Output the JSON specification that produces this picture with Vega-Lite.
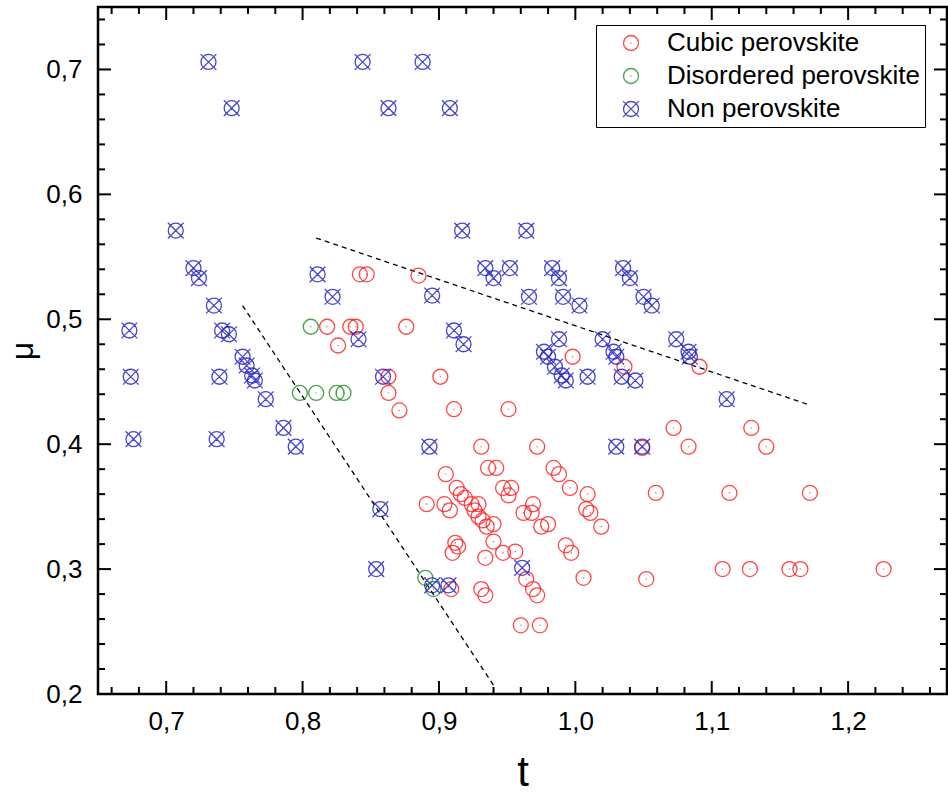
{
  "$schema": "https://vega.github.io/schema/vega-lite/v6.json",
  "width": 849,
  "height": 687,
  "autosize": {"type": "none"},
  "padding": {"left": 98, "top": 7, "right": 1, "bottom": 102},
  "background": "white",
  "config": {
    "view": {"stroke": "black", "strokeWidth": 2.5},
    "font": "Liberation Sans",
    "tick": {"color": "black", "thickness": 2, "opacity": 1},
    "axis": {
      "domain": false,
      "ticks": false,
      "grid": false,
      "labelFont": "Liberation Sans",
      "labelFontSize": 26,
      "labelColor": "black",
      "labelOverlap": false,
      "labelFlush": false,
      "labelBound": false,
      "titleFont": "Liberation Sans",
      "titleFontWeight": "normal",
      "titleColor": "black"
    }
  },
  "datasets": {
    "majorT": [{"v": 0.7}, {"v": 0.8}, {"v": 0.9}, {"v": 1.0}, {"v": 1.1}, {"v": 1.2}],
    "minorT": [{"v": 0.66}, {"v": 0.68}, {"v": 0.72}, {"v": 0.74}, {"v": 0.76}, {"v": 0.78}, {"v": 0.82}, {"v": 0.84}, {"v": 0.86}, {"v": 0.88}, {"v": 0.92}, {"v": 0.94}, {"v": 0.96}, {"v": 0.98}, {"v": 1.02}, {"v": 1.04}, {"v": 1.06}, {"v": 1.08}, {"v": 1.12}, {"v": 1.14}, {"v": 1.16}, {"v": 1.18}, {"v": 1.22}, {"v": 1.24}, {"v": 1.26}],
    "majorMu": [{"v": 0.2}, {"v": 0.3}, {"v": 0.4}, {"v": 0.5}, {"v": 0.6}, {"v": 0.7}],
    "minorMu": [{"v": 0.22}, {"v": 0.24}, {"v": 0.26}, {"v": 0.28}, {"v": 0.32}, {"v": 0.34}, {"v": 0.36}, {"v": 0.38}, {"v": 0.42}, {"v": 0.44}, {"v": 0.46}, {"v": 0.48}, {"v": 0.52}, {"v": 0.54}, {"v": 0.56}, {"v": 0.58}, {"v": 0.62}, {"v": 0.64}, {"v": 0.66}, {"v": 0.68}, {"v": 0.72}, {"v": 0.74}],
    "guides": [
      {"t1": 0.81, "m1": 0.565, "t2": 1.17, "m2": 0.432},
      {"t1": 0.756, "m1": 0.511, "t2": 0.94, "m2": 0.207}
    ],
    "compounds": [
      {"type": "Cubic perovskite", "t": 0.842, "mu": 0.536},
      {"type": "Cubic perovskite", "t": 0.847, "mu": 0.536},
      {"type": "Cubic perovskite", "t": 0.885, "mu": 0.535},
      {"type": "Cubic perovskite", "t": 0.818, "mu": 0.494},
      {"type": "Cubic perovskite", "t": 0.835, "mu": 0.494},
      {"type": "Cubic perovskite", "t": 0.839, "mu": 0.494},
      {"type": "Cubic perovskite", "t": 0.826, "mu": 0.479},
      {"type": "Cubic perovskite", "t": 0.876, "mu": 0.494},
      {"type": "Cubic perovskite", "t": 0.863, "mu": 0.454},
      {"type": "Cubic perovskite", "t": 0.863, "mu": 0.441},
      {"type": "Cubic perovskite", "t": 0.871, "mu": 0.427},
      {"type": "Cubic perovskite", "t": 0.901, "mu": 0.454},
      {"type": "Cubic perovskite", "t": 0.911, "mu": 0.428},
      {"type": "Cubic perovskite", "t": 0.951, "mu": 0.428},
      {"type": "Cubic perovskite", "t": 0.998, "mu": 0.470},
      {"type": "Cubic perovskite", "t": 1.036, "mu": 0.462},
      {"type": "Cubic perovskite", "t": 1.091, "mu": 0.462},
      {"type": "Cubic perovskite", "t": 0.931, "mu": 0.398},
      {"type": "Cubic perovskite", "t": 0.972, "mu": 0.398},
      {"type": "Cubic perovskite", "t": 1.049, "mu": 0.397},
      {"type": "Cubic perovskite", "t": 1.072, "mu": 0.413},
      {"type": "Cubic perovskite", "t": 1.083, "mu": 0.398},
      {"type": "Cubic perovskite", "t": 1.129, "mu": 0.413},
      {"type": "Cubic perovskite", "t": 1.140, "mu": 0.398},
      {"type": "Cubic perovskite", "t": 0.936, "mu": 0.381},
      {"type": "Cubic perovskite", "t": 0.942, "mu": 0.381},
      {"type": "Cubic perovskite", "t": 0.905, "mu": 0.376},
      {"type": "Cubic perovskite", "t": 0.984, "mu": 0.381},
      {"type": "Cubic perovskite", "t": 0.988, "mu": 0.376},
      {"type": "Cubic perovskite", "t": 0.913, "mu": 0.365},
      {"type": "Cubic perovskite", "t": 0.916, "mu": 0.360},
      {"type": "Cubic perovskite", "t": 0.919, "mu": 0.357},
      {"type": "Cubic perovskite", "t": 0.947, "mu": 0.365},
      {"type": "Cubic perovskite", "t": 0.953, "mu": 0.365},
      {"type": "Cubic perovskite", "t": 0.951, "mu": 0.359},
      {"type": "Cubic perovskite", "t": 0.996, "mu": 0.365},
      {"type": "Cubic perovskite", "t": 1.009, "mu": 0.360},
      {"type": "Cubic perovskite", "t": 1.008, "mu": 0.348},
      {"type": "Cubic perovskite", "t": 1.011, "mu": 0.345},
      {"type": "Cubic perovskite", "t": 1.019, "mu": 0.334},
      {"type": "Cubic perovskite", "t": 0.891, "mu": 0.352},
      {"type": "Cubic perovskite", "t": 0.904, "mu": 0.352},
      {"type": "Cubic perovskite", "t": 0.908, "mu": 0.347},
      {"type": "Cubic perovskite", "t": 0.924, "mu": 0.352},
      {"type": "Cubic perovskite", "t": 0.929, "mu": 0.352},
      {"type": "Cubic perovskite", "t": 0.926, "mu": 0.347},
      {"type": "Cubic perovskite", "t": 0.929, "mu": 0.342},
      {"type": "Cubic perovskite", "t": 0.932, "mu": 0.339},
      {"type": "Cubic perovskite", "t": 0.940, "mu": 0.336},
      {"type": "Cubic perovskite", "t": 0.935, "mu": 0.334},
      {"type": "Cubic perovskite", "t": 0.962, "mu": 0.345},
      {"type": "Cubic perovskite", "t": 0.968, "mu": 0.345},
      {"type": "Cubic perovskite", "t": 0.969, "mu": 0.352},
      {"type": "Cubic perovskite", "t": 0.975, "mu": 0.334},
      {"type": "Cubic perovskite", "t": 0.980, "mu": 0.336},
      {"type": "Cubic perovskite", "t": 0.940, "mu": 0.322},
      {"type": "Cubic perovskite", "t": 0.912, "mu": 0.321},
      {"type": "Cubic perovskite", "t": 0.914, "mu": 0.318},
      {"type": "Cubic perovskite", "t": 0.910, "mu": 0.313},
      {"type": "Cubic perovskite", "t": 0.934, "mu": 0.309},
      {"type": "Cubic perovskite", "t": 0.947, "mu": 0.313},
      {"type": "Cubic perovskite", "t": 0.956, "mu": 0.314},
      {"type": "Cubic perovskite", "t": 0.993, "mu": 0.319},
      {"type": "Cubic perovskite", "t": 0.997, "mu": 0.313},
      {"type": "Cubic perovskite", "t": 0.964, "mu": 0.292},
      {"type": "Cubic perovskite", "t": 0.969, "mu": 0.284},
      {"type": "Cubic perovskite", "t": 0.972, "mu": 0.279},
      {"type": "Cubic perovskite", "t": 1.006, "mu": 0.293},
      {"type": "Cubic perovskite", "t": 0.931, "mu": 0.284},
      {"type": "Cubic perovskite", "t": 0.934, "mu": 0.279},
      {"type": "Cubic perovskite", "t": 0.909, "mu": 0.284},
      {"type": "Cubic perovskite", "t": 0.960, "mu": 0.255},
      {"type": "Cubic perovskite", "t": 0.974, "mu": 0.255},
      {"type": "Cubic perovskite", "t": 1.059, "mu": 0.361},
      {"type": "Cubic perovskite", "t": 1.113, "mu": 0.361},
      {"type": "Cubic perovskite", "t": 1.172, "mu": 0.361},
      {"type": "Cubic perovskite", "t": 1.052, "mu": 0.292},
      {"type": "Cubic perovskite", "t": 1.108, "mu": 0.300},
      {"type": "Cubic perovskite", "t": 1.128, "mu": 0.300},
      {"type": "Cubic perovskite", "t": 1.157, "mu": 0.300},
      {"type": "Cubic perovskite", "t": 1.165, "mu": 0.300},
      {"type": "Cubic perovskite", "t": 1.226, "mu": 0.300},
      {"type": "Disordered perovskite", "t": 0.806, "mu": 0.494},
      {"type": "Disordered perovskite", "t": 0.798, "mu": 0.441},
      {"type": "Disordered perovskite", "t": 0.810, "mu": 0.441},
      {"type": "Disordered perovskite", "t": 0.825, "mu": 0.441},
      {"type": "Disordered perovskite", "t": 0.830, "mu": 0.441},
      {"type": "Disordered perovskite", "t": 0.890, "mu": 0.293},
      {"type": "Disordered perovskite", "t": 0.896, "mu": 0.284},
      {"type": "Non perovskite", "t": 0.731, "mu": 0.706},
      {"type": "Non perovskite", "t": 0.748, "mu": 0.669},
      {"type": "Non perovskite", "t": 0.707, "mu": 0.571},
      {"type": "Non perovskite", "t": 0.844, "mu": 0.706},
      {"type": "Non perovskite", "t": 0.888, "mu": 0.706},
      {"type": "Non perovskite", "t": 0.863, "mu": 0.669},
      {"type": "Non perovskite", "t": 0.908, "mu": 0.669},
      {"type": "Non perovskite", "t": 0.917, "mu": 0.571},
      {"type": "Non perovskite", "t": 0.964, "mu": 0.571},
      {"type": "Non perovskite", "t": 0.720, "mu": 0.541},
      {"type": "Non perovskite", "t": 0.724, "mu": 0.533},
      {"type": "Non perovskite", "t": 0.735, "mu": 0.511},
      {"type": "Non perovskite", "t": 0.673, "mu": 0.491},
      {"type": "Non perovskite", "t": 0.741, "mu": 0.491},
      {"type": "Non perovskite", "t": 0.746, "mu": 0.488},
      {"type": "Non perovskite", "t": 0.756, "mu": 0.470},
      {"type": "Non perovskite", "t": 0.759, "mu": 0.463},
      {"type": "Non perovskite", "t": 0.763, "mu": 0.455},
      {"type": "Non perovskite", "t": 0.765, "mu": 0.451},
      {"type": "Non perovskite", "t": 0.674, "mu": 0.454},
      {"type": "Non perovskite", "t": 0.739, "mu": 0.454},
      {"type": "Non perovskite", "t": 0.773, "mu": 0.436},
      {"type": "Non perovskite", "t": 0.786, "mu": 0.413},
      {"type": "Non perovskite", "t": 0.795, "mu": 0.398},
      {"type": "Non perovskite", "t": 0.676, "mu": 0.404},
      {"type": "Non perovskite", "t": 0.737, "mu": 0.404},
      {"type": "Non perovskite", "t": 0.811, "mu": 0.536},
      {"type": "Non perovskite", "t": 0.822, "mu": 0.518},
      {"type": "Non perovskite", "t": 0.895, "mu": 0.519},
      {"type": "Non perovskite", "t": 0.841, "mu": 0.484},
      {"type": "Non perovskite", "t": 0.911, "mu": 0.491},
      {"type": "Non perovskite", "t": 0.918, "mu": 0.480},
      {"type": "Non perovskite", "t": 0.934, "mu": 0.541},
      {"type": "Non perovskite", "t": 0.940, "mu": 0.533},
      {"type": "Non perovskite", "t": 0.952, "mu": 0.541},
      {"type": "Non perovskite", "t": 0.983, "mu": 0.541},
      {"type": "Non perovskite", "t": 0.988, "mu": 0.533},
      {"type": "Non perovskite", "t": 1.035, "mu": 0.541},
      {"type": "Non perovskite", "t": 1.040, "mu": 0.533},
      {"type": "Non perovskite", "t": 0.966, "mu": 0.518},
      {"type": "Non perovskite", "t": 0.991, "mu": 0.518},
      {"type": "Non perovskite", "t": 1.003, "mu": 0.511},
      {"type": "Non perovskite", "t": 1.050, "mu": 0.518},
      {"type": "Non perovskite", "t": 1.056, "mu": 0.511},
      {"type": "Non perovskite", "t": 0.988, "mu": 0.484},
      {"type": "Non perovskite", "t": 1.020, "mu": 0.484},
      {"type": "Non perovskite", "t": 0.977, "mu": 0.474},
      {"type": "Non perovskite", "t": 0.980, "mu": 0.470},
      {"type": "Non perovskite", "t": 0.985, "mu": 0.462},
      {"type": "Non perovskite", "t": 0.990, "mu": 0.455},
      {"type": "Non perovskite", "t": 0.993, "mu": 0.451},
      {"type": "Non perovskite", "t": 1.009, "mu": 0.454},
      {"type": "Non perovskite", "t": 1.028, "mu": 0.474},
      {"type": "Non perovskite", "t": 1.030, "mu": 0.470},
      {"type": "Non perovskite", "t": 1.034, "mu": 0.454},
      {"type": "Non perovskite", "t": 1.044, "mu": 0.451},
      {"type": "Non perovskite", "t": 1.074, "mu": 0.484},
      {"type": "Non perovskite", "t": 1.083, "mu": 0.474},
      {"type": "Non perovskite", "t": 1.084, "mu": 0.470},
      {"type": "Non perovskite", "t": 1.111, "mu": 0.436},
      {"type": "Non perovskite", "t": 0.859, "mu": 0.454},
      {"type": "Non perovskite", "t": 0.893, "mu": 0.398},
      {"type": "Non perovskite", "t": 1.030, "mu": 0.398},
      {"type": "Non perovskite", "t": 1.049, "mu": 0.398},
      {"type": "Non perovskite", "t": 0.857, "mu": 0.348},
      {"type": "Non perovskite", "t": 0.854, "mu": 0.300},
      {"type": "Non perovskite", "t": 0.961, "mu": 0.301},
      {"type": "Non perovskite", "t": 0.895, "mu": 0.287},
      {"type": "Non perovskite", "t": 0.907, "mu": 0.287}
    ]
  },
  "layer": [
    {
      "data": {"name": "guides"},
      "mark": {"type": "rule", "color": "black", "strokeWidth": 1.3, "strokeDash": [5, 4]},
      "encoding": {
        "x": {"field": "t1", "type": "quantitative", "scale": {"domain": [0.65, 1.2725], "nice": false, "zero": false}, "axis": null},
        "y": {"field": "m1", "type": "quantitative", "scale": {"domain": [0.2, 0.75], "nice": false, "zero": false}, "axis": null},
        "x2": {"field": "t2"},
        "y2": {"field": "m2"}
      }
    },
    {
      "data": {"name": "majorT"},
      "mark": {"type": "tick", "orient": "vertical", "size": 13, "yOffset": -6.5},
      "encoding": {
        "x": {"field": "v", "type": "quantitative", "scale": {"domain": [0.65, 1.2725], "nice": false, "zero": false}, "axis": null},
        "y": {"datum": 0.2, "type": "quantitative", "scale": {"domain": [0.2, 0.75], "nice": false, "zero": false}, "axis": null}
      }
    },
    {
      "data": {"name": "minorT"},
      "mark": {"type": "tick", "orient": "vertical", "size": 7, "yOffset": -3.5},
      "encoding": {
        "x": {"field": "v", "type": "quantitative", "scale": {"domain": [0.65, 1.2725], "nice": false, "zero": false}, "axis": null},
        "y": {"datum": 0.2, "type": "quantitative", "scale": {"domain": [0.2, 0.75], "nice": false, "zero": false}, "axis": null}
      }
    },
    {
      "data": {"name": "majorT"},
      "mark": {"type": "tick", "orient": "vertical", "size": 13, "yOffset": 6.5},
      "encoding": {
        "x": {"field": "v", "type": "quantitative", "scale": {"domain": [0.65, 1.2725], "nice": false, "zero": false}, "axis": null},
        "y": {"datum": 0.75, "type": "quantitative", "scale": {"domain": [0.2, 0.75], "nice": false, "zero": false}, "axis": null}
      }
    },
    {
      "data": {"name": "minorT"},
      "mark": {"type": "tick", "orient": "vertical", "size": 7, "yOffset": 3.5},
      "encoding": {
        "x": {"field": "v", "type": "quantitative", "scale": {"domain": [0.65, 1.2725], "nice": false, "zero": false}, "axis": null},
        "y": {"datum": 0.75, "type": "quantitative", "scale": {"domain": [0.2, 0.75], "nice": false, "zero": false}, "axis": null}
      }
    },
    {
      "data": {"name": "majorMu"},
      "mark": {"type": "tick", "orient": "horizontal", "size": 13, "xOffset": 6.5},
      "encoding": {
        "y": {"field": "v", "type": "quantitative", "scale": {"domain": [0.2, 0.75], "nice": false, "zero": false}, "axis": null},
        "x": {"datum": 0.65, "type": "quantitative", "scale": {"domain": [0.65, 1.2725], "nice": false, "zero": false}, "axis": null}
      }
    },
    {
      "data": {"name": "minorMu"},
      "mark": {"type": "tick", "orient": "horizontal", "size": 7, "xOffset": 3.5},
      "encoding": {
        "y": {"field": "v", "type": "quantitative", "scale": {"domain": [0.2, 0.75], "nice": false, "zero": false}, "axis": null},
        "x": {"datum": 0.65, "type": "quantitative", "scale": {"domain": [0.65, 1.2725], "nice": false, "zero": false}, "axis": null}
      }
    },
    {
      "data": {"name": "majorMu"},
      "mark": {"type": "tick", "orient": "horizontal", "size": 13, "xOffset": -6.5},
      "encoding": {
        "y": {"field": "v", "type": "quantitative", "scale": {"domain": [0.2, 0.75], "nice": false, "zero": false}, "axis": null},
        "x": {"datum": 1.2725, "type": "quantitative", "scale": {"domain": [0.65, 1.2725], "nice": false, "zero": false}, "axis": null}
      }
    },
    {
      "data": {"name": "minorMu"},
      "mark": {"type": "tick", "orient": "horizontal", "size": 7, "xOffset": -3.5},
      "encoding": {
        "y": {"field": "v", "type": "quantitative", "scale": {"domain": [0.2, 0.75], "nice": false, "zero": false}, "axis": null},
        "x": {"datum": 1.2725, "type": "quantitative", "scale": {"domain": [0.65, 1.2725], "nice": false, "zero": false}, "axis": null}
      }
    },
    {
      "data": {"name": "compounds"},
      "mark": {"type": "point", "filled": false, "strokeWidth": 1.3, "size": 225, "opacity": 0.8},
      "encoding": {
        "x": {
          "field": "t", "type": "quantitative",
          "scale": {"domain": [0.65, 1.2725], "nice": false, "zero": false},
          "axis": {
            "orient": "bottom",
            "title": "t",
            "titleFontSize": 42,
            "titlePadding": 18,
            "labelPadding": 14,
            "labelExpr": "replace(format(datum.value, '.1f'), '.', ',')",
            "values": [0.7, 0.8, 0.9, 1.0, 1.1, 1.2]
          }
        },
        "y": {
          "field": "mu", "type": "quantitative",
          "scale": {"domain": [0.2, 0.75], "nice": false, "zero": false},
          "axis": {
            "orient": "left",
            "title": "μ",
            "titleFontSize": 32,
            "titlePadding": 6,
            "labelPadding": 16,
            "labelExpr": "replace(format(datum.value, '.1f'), '.', ',')",
            "values": [0.2, 0.3, 0.4, 0.5, 0.6, 0.7]
          }
        },
        "stroke": {
          "field": "type", "type": "nominal",
          "scale": {
            "domain": ["Cubic perovskite", "Disordered perovskite", "Non perovskite"],
            "range": ["#ff1a1a", "#1e8a1e", "#1a1ac0"]
          },
          "legend": {
            "title": null,
            "orient": "none",
            "legendX": 498,
            "legendY": 18,
            "strokeColor": "black",
            "fillColor": "white",
            "padding": 5,
            "labelFont": "Liberation Sans",
            "labelFontSize": 26,
            "labelColor": "black",
            "labelLimit": 400,
            "symbolSize": 225,
            "symbolStrokeWidth": 1.3,
            "symbolOffset": 17,
            "labelOffset": 23,
            "rowPadding": 7
          }
        },
        "shape": {
          "field": "type", "type": "nominal",
          "scale": {
            "domain": ["Cubic perovskite", "Disordered perovskite", "Non perovskite"],
            "range": [
              "M1,0A1,1 0 1,1 -1,0A1,1 0 1,1 1,0M0,-0.07L0,0.07",
              "M1,0A1,1 0 1,1 -1,0A1,1 0 1,1 1,0M0,-0.07L0,0.07",
              "M1,0A1,1 0 1,1 -1,0A1,1 0 1,1 1,0M-1.05,-1.05L1.05,1.05M-1.05,1.05L1.05,-1.05"
            ]
          },
          "legend": {
            "title": null,
            "orient": "none",
            "legendX": 498,
            "legendY": 18,
            "strokeColor": "black",
            "fillColor": "white",
            "padding": 5,
            "labelFont": "Liberation Sans",
            "labelFontSize": 26,
            "labelColor": "black",
            "labelLimit": 400,
            "symbolSize": 225,
            "symbolStrokeWidth": 1.3,
            "symbolOffset": 17,
            "labelOffset": 23,
            "rowPadding": 7
          }
        }
      }
    }
  ],
  "resolve": {"axis": {"x": "independent", "y": "independent"}}
}
